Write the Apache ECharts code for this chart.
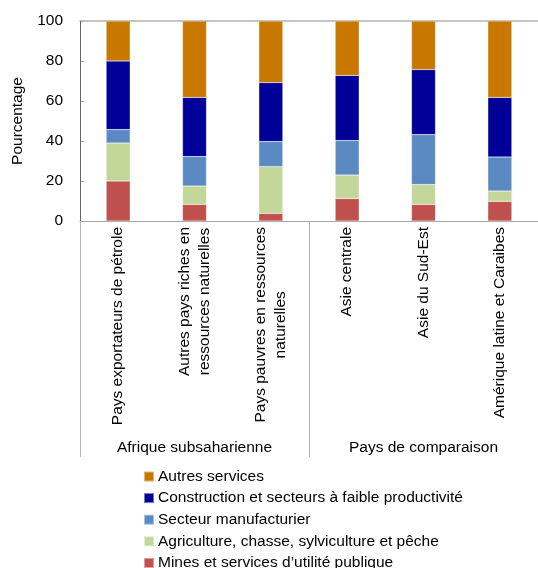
<!DOCTYPE html>
<html>
<head>
<meta charset="utf-8">
<script src="https://cdn.jsdelivr.net/npm/echarts@6/dist/echarts.min.js"></script>
<style>
  html, body { margin: 0; padding: 0; background: #fff; }
  #chart { width: 538px; height: 568px; }
</style>
</head>
<body>
<div id="chart"></div>
<script>
// Répartition de l'emploi par secteur (en % du total)
const categories = [
  'Pays exportateurs de pétrole',
  'Autres pays riches en\nressources naturelles',
  'Pays pauvres en ressources\nnaturelles',
  'Asie centrale',
  'Asie du Sud-Est',
  'Amérique latine et Caraibes'
];
const groups = ['Afrique subsaharienne', 'Pays de comparaison'];
const yTicks = [0, 20, 40, 60, 80, 100];

const mines        = [20.0, 8.3, 3.8, 11.2, 8.3, 9.8];
const agriculture  = [19.0, 9.2, 23.4, 11.8, 9.9, 5.2];
const manufacture  = [6.7, 14.7, 12.5, 17.2, 25.0, 17.0];
const construction = [34.3, 29.6, 29.5, 32.6, 32.5, 29.8];
const autres       = [20.0, 38.2, 30.8, 27.2, 24.3, 38.2];

const seriesNames = [
  'Mines et services d\u2019utilité publique',
  'Agriculture, chasse, sylviculture et pêche',
  'Secteur manufacturier',
  'Construction et secteurs à faible productivité',
  'Autres services'
];
const seriesData = [mines, agriculture, manufacture, construction, autres];
const colors = ['#C0504D', '#C4D79B', '#5B8AC2', '#000099', '#C87800'];

const FONT = "'Liberation Sans', Arial, sans-serif";
const FS = 15.5;

const chart = echarts.init(document.getElementById('chart'), null, { renderer: 'canvas' });

chart.setOption({
  animation: false,
  backgroundColor: '#ffffff',
  textStyle: { fontFamily: FONT, color: '#000' },
  grid: { left: 80, top: 21, width: 460, height: 200 },
  legend: {
    orient: 'vertical',
    left: 138,
    top: 463,
    height: 120,
    padding: 5,
    itemWidth: 10,
    itemHeight: 10,
    itemGap: 4.6,
    icon: 'rect',
    data: seriesNames.slice().reverse(),
    textStyle: { fontFamily: FONT, fontSize: FS, color: '#000', lineHeight: 17, padding: [0, 0, 0, -1] }
  },
  xAxis: [
    {
      type: 'category',
      data: categories,
      position: 'bottom',
      axisLine: { show: true, lineStyle: { color: '#a6a6a6', width: 1 } },
      axisTick: { show: false },
      axisLabel: {
        interval: 0,
        rotate: 90,
        margin: 6,
        fontFamily: FONT,
        fontSize: FS,
        color: '#000',
        lineHeight: 20,
        formatter: function (v) {
          return v.split('\n').map(function (l) { return '{c|' + l + '}'; }).join('\n');
        },
        rich: { c: { align: 'center', fontFamily: FONT, fontSize: FS, lineHeight: 20, color: '#000' } }
      }
    },
    {
      // regroupement des pays sous l'axe
      type: 'category',
      data: groups,
      position: 'bottom',
      offset: 236,
      axisLine: { show: false },
      axisTick: { show: true, inside: true, length: 236, lineStyle: { color: '#b3b3b3', width: 1 } },
      axisLabel: { inside: true, margin: 1, fontFamily: FONT, fontSize: FS, color: '#000' },
      splitLine: { show: false }
    },
    {
      // bordure supérieure et séparation des groupes dans la zone de tracé
      type: 'category',
      data: groups,
      position: 'top',
      axisLine: { show: true, lineStyle: { color: '#b3b3b3', width: 1.5 } },
      axisTick: {
        show: true, inside: true, length: 200,
        interval: function (i) { return i === 1; },
        lineStyle: { color: '#666666', width: 1 }
      },
      axisLabel: { show: false },
      splitLine: { show: false }
    }
  ],
  yAxis: {
    type: 'value',
    min: 0,
    max: 100,
    interval: 20,
    name: 'Pourcentage',
    nameLocation: 'middle',
    nameGap: 54,
    nameRotate: 90,
    nameTextStyle: { fontFamily: FONT, fontSize: FS, color: '#000' },
    axisLine: { show: true, lineStyle: { color: '#a6a6a6', width: 1 } },
    axisTick: { show: true, inside: true, length: 4, lineStyle: { color: '#a6a6a6' } },
    axisLabel: {
      margin: 17, fontFamily: FONT, fontSize: FS, color: '#000',
      customValues: yTicks
    },
    splitLine: { show: false }
  },
  series: seriesNames.map(function (name, i) {
    return {
      name: name,
      type: 'bar',
      stack: 'total',
      xAxisIndex: 0,
      barWidth: 24,
      data: seriesData[i],
      itemStyle: { color: colors[i], borderColor: 'rgba(255,255,255,0.45)', borderWidth: 0.5 }
    };
  })
});
</script>
</body>
</html>
